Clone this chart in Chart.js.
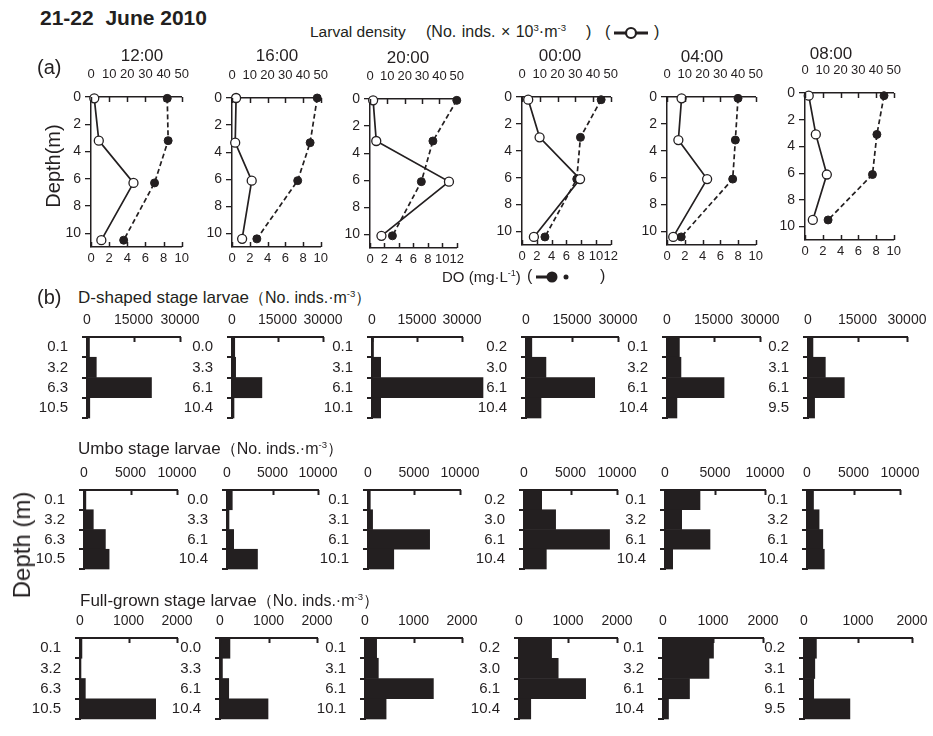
<!DOCTYPE html>
<html><head><meta charset="utf-8">
<script src="https://cdn.jsdelivr.net/npm/chart.js@4.4.1/dist/chart.umd.min.js"></script>
<style>
body{margin:0;background:#fff;width:933px;height:736px;overflow:hidden;position:relative;font-family:'Liberation Sans',Arial,sans-serif;color:#231f20}
canvas{position:absolute}
.t{position:absolute;white-space:nowrap;line-height:1}
.t sup{font-size:0.6em;line-height:0;vertical-align:0.6em}
.t svg{vertical-align:middle}
</style></head><body>
<script>
// ---------------- DATA ----------------
const times = ['12:00','16:00','20:00','00:00','04:00','08:00'];
const profileDepths = [
  [0.1,3.2,6.3,10.5],[0.0,3.3,6.1,10.4],[0.1,3.1,6.1,10.1],
  [0.2,3.0,6.1,10.4],[0.1,3.2,6.1,10.4],[0.2,3.1,6.1,9.5]];
const larvalDensity = [ // No. inds. x10^3 m^-3
  [1.8,4.3,23.4,5.7],[2.3,1.8,11.1,5.7],[1.8,3.6,45.5,6.6],
  [3.5,9.9,32.7,6.7],[8.2,6.4,22.6,3.5],[2.1,6.1,12.3,4.4]];
const dissolvedOxygen = [ // mg L^-1
  [8.4,8.5,7.0,3.6],[9.6,8.8,7.4,2.8],[12.0,8.7,7.1,3.1],
  [10.7,7.9,7.4,3.1],[8.0,7.7,7.4,1.6],[8.9,8.1,7.6,2.6]];
const doAxisMax = [10,10,12,12,10,10];
const densityAxisMax = 50;
const depthAxisMax = 11;

const dShapedDepthLabels = [
  ['0.1','3.2','6.3','10.5'],['0.0','3.3','6.1','10.4'],['0.1','3.1','6.1','10.1'],
  ['0.2','3.0','6.1','10.4'],['0.1','3.2','6.1','10.4'],['0.2','3.1','6.1','9.5']];
const umboDepthLabels = [
  ['0.1','3.2','6.3','10.5'],['0.0','3.3','6.1','10.4'],['0.1','3.1','6.1','10.1'],
  ['0.2','3.0','6.1','10.4'],['0.1','3.2','6.1','10.4'],['0.1','3.2','6.1','10.4']];
const fullGrownDepthLabels = [
  ['0.1','3.2','6.3','10.5'],['0.0','3.3','6.1','10.4'],['0.1','3.1','6.1','10.1'],
  ['0.2','3.0','6.1','10.4'],['0.1','3.2','6.1','10.4'],['0.2','3.1','6.1','9.5']];

const dShaped = [
  [800,3000,20800,900],[900,1200,9850,660],[500,2900,37000,2900],
  [1900,6500,22400,4900],[4000,4500,18400,3200],[1500,5250,11000,2000]];
const umbo = [
  [200,1000,2300,2700],[580,220,730,3350],[250,500,6700,2800],
  [1900,3400,9200,2400],[3500,1670,4500,770],[700,1300,1700,1860]];
const fullGrown = [
  [40,20,110,1560],[205,50,180,990],[240,275,1410,435],
  [665,800,1360,240],[1010,920,530,110],[230,200,180,850]];
const dShapedAxis = {max:30000, step:15000};
const umboAxis = {max:10000, step:5000};
const fullGrownAxis = {max:2000, step:1000};

// ---------------- LAYOUT (plot-area boxes: left, top, right, bottom) ----------------
const lineBoxes = [[91,97,188,247],[232,98,327,247],[370,99,463,248],[522,97,617,245],[667,97,762,245],[805,93,900,240]];
const dBoxes = [[87,337,180,431],[232,337,323,431],[372,337,462,431],[526,337,618,431],[667,337,760,431],[808,337,907,431]];
const umboBoxes = [[84,490,177,582],[227,490,318,582],[368,490,460,582],[524,490,617,582],[665,490,765,582],[807,490,900,582]];
const fullBoxes = [[80,638,177,732],[220,638,317,732],[365,638,462,732],[519,638,617,732],[663,638,763,732],[804,638,912,732]];

const INK = '#231f20';
const FONT = "'Liberation Sans', Arial, sans-serif";
const plain = v => String(v);

const innerTicks = {
  id:'innerTicks',
  afterDraw(chart, args, opts){
    const ctx = chart.ctx;
    (opts.scales||[]).forEach(id=>{
      const s = chart.scales[id]; if(!s) return;
      ctx.save(); ctx.strokeStyle = INK; ctx.lineWidth = opts.width||1.5;
      const len = opts.len||5;
      s.ticks.forEach(t=>{
        const x = Math.round(s.getPixelForValue(t.value))+0.5;
        const y0 = s.position==='top' ? s.bottom : s.top;
        const dir = s.position==='top' ? 1 : -1;
        ctx.beginPath(); ctx.moveTo(x,y0); ctx.lineTo(x,y0+dir*len); ctx.stroke();
      });
      ctx.restore();
    });
  }
};

function makeCanvas(x,y,w,h){
  const c = document.createElement('canvas');
  c.width = w; c.height = h;
  c.style.left = x+'px'; c.style.top = y+'px';
  c.style.width = w+'px'; c.style.height = h+'px';
  document.body.appendChild(c);
  return c;
}

function lineChart(i){
  const [L,T,R,B] = lineBoxes[i];
  const padL=34, padT=36, padR=16, padB=24;
  const cv = makeCanvas(L-padL, T-padT, R-L+padL+padR, B-T+padT+padB);
  const tickFont = {family:FONT, size:13};
  new Chart(cv, {
    type:'scatter',
    data:{datasets:[
      {label:'Larval density', data: profileDepths[i].map((d,k)=>({x:larvalDensity[i][k], y:d})),
       xAxisID:'xt', yAxisID:'y', showLine:true, borderColor:INK, borderWidth:1.7,
       pointRadius:4.5, pointBackgroundColor:'#fff', pointBorderColor:INK, pointBorderWidth:1.3, clip:false},
      {label:'DO', data: profileDepths[i].map((d,k)=>({x:dissolvedOxygen[i][k], y:d})),
       xAxisID:'xb', yAxisID:'y', showLine:true, borderColor:INK, borderWidth:1.7, borderDash:[5,3],
       pointRadius:4, pointBackgroundColor:INK, pointBorderColor:INK, pointBorderWidth:1, clip:false}
    ]},
    options:{
      responsive:false, animation:false, devicePixelRatio:1, events:[],
      layout:{padding:{left:0,top:0,right:padR,bottom:0}},
      plugins:{legend:{display:false}, tooltip:{enabled:false}, innerTicks:{scales:['xt','xb'], len:5}},
      scales:{
        xt:{type:'linear', position:'top', axis:'x', min:0, max:densityAxisMax,
            ticks:{stepSize:10, padding:15, font:tickFont, color:INK, maxRotation:0, autoSkip:false, callback:plain},
            grid:{drawOnChartArea:false, drawTicks:false}, border:{color:INK, width:1.5},
            afterFit(s){s.height=padT;}},
        xb:{type:'linear', position:'bottom', axis:'x', min:0, max:doAxisMax[i],
            ticks:{stepSize:2, padding:4, font:tickFont, color:INK, maxRotation:0, autoSkip:false, callback:plain},
            grid:{drawOnChartArea:false, drawTicks:false}, border:{color:INK, width:1.5},
            afterFit(s){s.height=padB;}},
        y:{type:'linear', position:'left', reverse:true, min:0, max:depthAxisMax,
            ticks:{stepSize:2, includeBounds:false, padding:4, font:{family:FONT,size:14}, color:INK, autoSkip:false, callback:plain},
            grid:{drawOnChartArea:false, drawTicks:true, tickLength:6, color:INK, lineWidth:1.3},
            border:{color:INK, width:1.5},
            afterFit(s){s.width=padL;}}
      }
    },
    plugins:[innerTicks]
  });
}

function barChart(box, labels, values, axis){
  const [L,T,R,B] = box;
  const padL=54, padT=26, padR=34, padB=10;
  const cv = makeCanvas(L-padL, T-padT, R-L+padL+padR, B-T+padT+padB);
  new Chart(cv, {
    type:'bar',
    data:{labels:labels, datasets:[{data:values, backgroundColor:INK, borderWidth:0,
      barPercentage:1, categoryPercentage:1, clip:false}]},
    options:{
      indexAxis:'y', responsive:false, animation:false, devicePixelRatio:1, events:[],
      layout:{padding:{left:0,top:0,right:padR,bottom:padB}},
      plugins:{legend:{display:false}, tooltip:{enabled:false}, innerTicks:{scales:['x'], len:5, width:2}},
      scales:{
        x:{position:'top', min:0, max:axis.max,
           ticks:{stepSize:axis.step, padding:8, font:{family:FONT,size:14}, color:INK, maxRotation:0, autoSkip:false, callback:plain},
           grid:{drawOnChartArea:false, drawTicks:false}, border:{color:INK, width:2},
           afterFit(s){s.height=padT;}},
        y:{ticks:{padding:14, font:{family:FONT,size:15}, color:INK, autoSkip:false},
           grid:{drawOnChartArea:false, drawTicks:true, tickLength:5, offset:true, color:INK, lineWidth:2},
           border:{color:INK, width:2},
           afterFit(s){s.width=padL;}}
      }
    },
    plugins:[innerTicks]
  });
}

for(let i=0;i<6;i++){
  lineChart(i);
  barChart(dBoxes[i], dShapedDepthLabels[i], dShaped[i], dShapedAxis);
  barChart(umboBoxes[i], umboDepthLabels[i], umbo[i], umboAxis);
  barChart(fullBoxes[i], fullGrownDepthLabels[i], fullGrown[i], fullGrownAxis);
}

// ---------------- TEXT ----------------
function text(html, x, y, size, extra){
  const d = document.createElement('div');
  d.className = 't';
  d.innerHTML = html;
  d.style.fontSize = size+'px';
  d.style.left = x+'px'; d.style.top = y+'px';
  let tf = 'translateY(-50%)';
  if(extra && extra.center) tf = 'translate(-50%,-50%)';
  if(extra && extra.rotate) tf = 'translate(-50%,-50%) rotate(-90deg)';
  d.style.transform = tf;
  if(extra && extra.bold) d.style.fontWeight = 'bold';
  if(extra && extra.ws) d.style.wordSpacing = extra.ws+'px';
  document.body.appendChild(d);
}
const openSym = '<svg width="36" height="14"><line x1="1" y1="7" x2="35" y2="7" stroke="'+INK+'" stroke-width="3"/><circle cx="18" cy="7" r="5" fill="#fff" stroke="'+INK+'" stroke-width="2.2"/></svg>';
const filledSym = '<svg width="36" height="14"><line x1="1" y1="7" x2="14" y2="7" stroke="'+INK+'" stroke-width="3"/><circle cx="17" cy="7" r="5.5" fill="'+INK+'"/><circle cx="31" cy="7" r="2.5" fill="'+INK+'"/></svg>';

text('21-22&nbsp;&nbsp;June 2010', 40, 17, 21, {bold:true});
text('Larval density', 310, 32, 15.5);
text('(No. inds. × 10<sup>3</sup>·m<sup>-3</sup>', 426, 32, 16, {ws:1});
text(')', 586, 32, 16);
text('(', 605, 32, 16);
text(openSym, 613, 32, 16);
text(')', 654, 32, 16);
text('(a)', 37, 67, 20);
const titlePos = [[142,55],[277,55],[408,57],[560,55],[702,56],[831,53]];
times.forEach((t,i)=>text(t, titlePos[i][0], titlePos[i][1], 17, {center:true}));
text('Depth(m)', 53, 166, 20, {rotate:true});
text('DO (mg·L<sup>-1</sup>)', 442, 276, 15);
text('(', 527, 276, 16);
text(filledSym, 535, 276, 16);
text(')', 600, 276, 16);
text('(b)', 37, 297, 20);
text('D-shaped stage larvae<span style="font-size:16px">（No. inds.·m<sup>-3</sup>）</span>', 78, 297, 17);
text('Umbo stage larvae<span style="font-size:16px">（No. inds.·m<sup>-3</sup>）</span>', 78, 448, 17);
text('Full-grown stage larvae<span style="font-size:16px">（No. inds.·m<sup>-3</sup>）</span>', 80, 600, 17);
text('Depth (m)', 22, 545, 24, {rotate:true});
</script>
</body></html>
